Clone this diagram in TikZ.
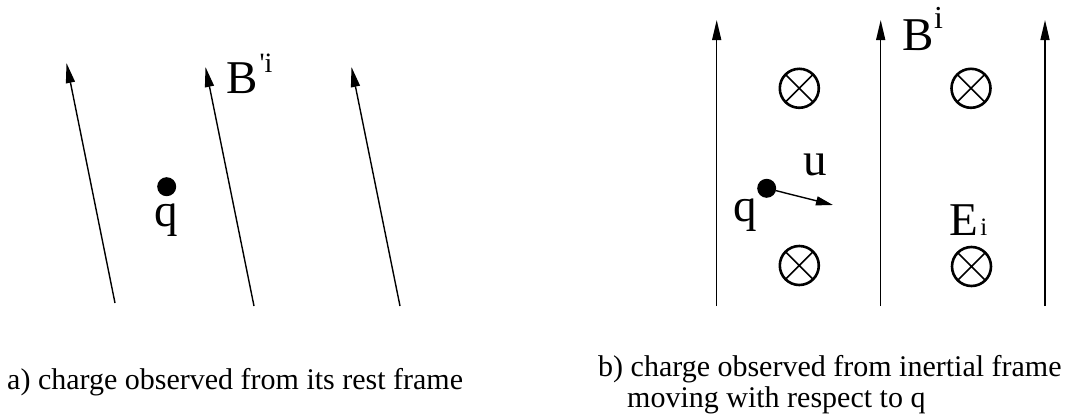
\documentclass[tikz,border=0pt]{standalone}
\usepackage{fontspec}
\setmainfont{Liberation Serif}
\usetikzlibrary{arrows.meta}

\begin{document}
\begin{tikzpicture}[
    x=1pt, y=-1pt,
    arr/.style={
        -{Triangle[length=20pt,width=9pt]},
        line width=1.4pt
    },
    vel/.style={
        -{Triangle[length=17pt,width=9pt]},
        line width=1.4pt
    },
    charge/.style={
        circle,
        fill=black,
        minimum size=19pt,
        inner sep=0pt
    },
    into/.style={
        circle,
        draw,
        line width=2.6pt,
        minimum size=39pt,
        inner sep=0pt,
        path picture={
            \draw[line width=1.6pt]
                (path picture bounding box.north west) -- (path picture bounding box.south east)
                (path picture bounding box.north east) -- (path picture bounding box.south west);
        }
    },
    lbl/.style={
        inner sep=0pt,
        font=\fontsize{47}{50}\selectfont
    },
    caption/.style={
        inner sep=0pt,
        anchor=base west,
        font=\fontsize{30}{31}\selectfont
    }
]
\useasboundingbox (0,0) rectangle (1066,415);

% a) rest frame
\coordinate (a1s) at (115,303);
\coordinate (a1e) at (66.5,63);
\coordinate (a2s) at (254,306);
\coordinate (a2e) at (205.5,67);
\coordinate (a3s) at (400,306);
\coordinate (a3e) at (351.5,67);

\node[charge] (qa) at (166.7,186.7) {};
\node[lbl, anchor=base] (qalbl) at (166.7,226.7) {q};
\node[lbl, anchor=base west] (Ba) at (226,93.3) {B\hspace{2pt}\raisebox{21pt}{\fontsize{28}{28}\selectfont\textquotesingle i}};

\draw[arr] (a1s) -- (a1e);
\draw[arr] (a2s) -- (a2e);
\draw[arr] (a3s) -- (a3e);

% b) moving frame
\coordinate (b1s) at (716.7,306);
\coordinate (b1e) at (716.7,20);
\coordinate (b2s) at (880.7,306);
\coordinate (b2e) at (880.7,20);
\coordinate (b3s) at (1045,306);
\coordinate (b3e) at (1045,20);

\node[into] (e1) at (799.3,88.3) {};
\node[into] (e2) at (971,88.3) {};
\node[into] (e3) at (799.3,265.5) {};
\node[into] (e4) at (971.5,266.5) {};

\node[charge] (qb) at (766.7,188.3) {};
\coordinate (utip) at (833,205);
\node[lbl, anchor=base] (qblbl) at (745.5,221.5) {q};
\node[lbl, anchor=base] (ulbl) at (815,175) {u};
\node[lbl, anchor=base west] (Bb) at (902.5,50) {B\raisebox{22pt}{\fontsize{32}{32}\selectfont i}};
\node[lbl, anchor=base west] (Eb) at (949.5,235) {E\hspace{2pt}{\fontsize{25}{25}\selectfont i}};

\draw[arr] (b1s) -- (b1e);
\draw[arr] (b2s) -- (b2e);
\draw[arr] (b3s) -- (b3e);
\draw[vel] (qb) -- (utip);

% captions
\node[caption] (capa) at (7,389) {a) charge observed from its rest frame};
\node[caption] (capb) at (598,376) {b) charge observed from inertial frame};
\node[caption] (capb2) at (627,407) {moving with respect to q};

\end{tikzpicture}
\end{document}
